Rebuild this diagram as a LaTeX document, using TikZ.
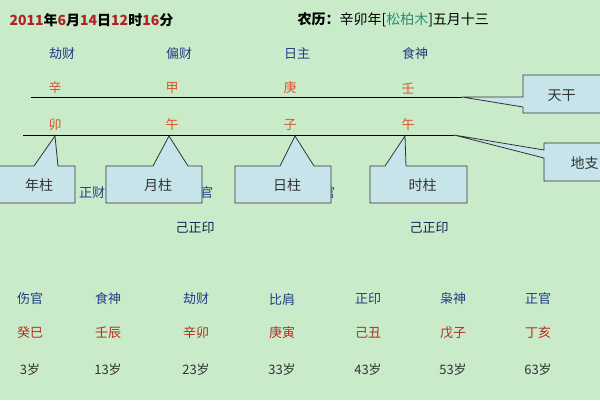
\documentclass[tikz,border=0pt]{standalone}
\usepackage{fontspec}
\setmainfont{Noto Sans CJK SC}
\definecolor{bg}{HTML}{C9EBC9}
\definecolor{ink}{HTML}{1F3C88}
\definecolor{zhu}{HTML}{D9562E}
\definecolor{nian}{HTML}{B22222}
\definecolor{callfill}{HTML}{C6E4EA}
\definecolor{jade}{HTML}{2E8B7A}
\begin{document}
\begin{tikzpicture}[x=1pt,y=-1pt,
  shen/.style={text=ink,font=\fontsize{13}{13}\selectfont},
  gz/.style={text=zhu,font=\fontsize{13}{13}\selectfont},
  plain/.style={text=black!80,font=\fontsize{13}{13}\selectfont},
  callout/.style={draw=black!80,fill=callfill,line width=0.8pt}]
\useasboundingbox[fill=bg] (0,0) rectangle (600,400);
% title line
\node[anchor=west,font=\bfseries\fontsize{14}{14}\selectfont] (date) at (6,20)
  {\textcolor{nian}{2011}年\textcolor{nian}{6}月\textcolor{nian}{14}日\textcolor{nian}{12}时\textcolor{nian}{16}分};
\node[anchor=west,font=\fontsize{14}{14}\selectfont] (lunar) at (294,20)
  {\textbf{农历：}辛卯年[\textcolor{jade}{松柏木}]五月十三};
% ten gods, stems, branches
\foreach \s/\g/\b/\x [count=\i] in {劫财/辛/卯/55, 偏财/甲/午/172, 日主/庚/子/290, 食神/壬/午/408}{
  \node[shen] (shen\i) at (\x+7,54) {\s};
  \node[gz] (gan\i) at (\x,88) {\g};
  \node[gz] (zhi\i) at (\x,125) {\b};
}
\coordinate (ganL) at (31,97);  \coordinate (ganR) at (462,97);
\coordinate (zhiL) at (23,135); \coordinate (zhiR) at (454,135);
\draw[line width=0.8pt] (ganL) -- (ganR);
\draw[line width=0.8pt] (zhiL) -- (zhiR);
% hidden text behind the boxes
\node[shen] (cai) at (92,193) {正财};
\node[shen] (guan1) at (200,193) {正官};
\node[shen] (guan2) at (322,193) {正官};
\node[plain,text=ink!60!black] (yin1) at (195,228) {己正印};
\node[plain,text=ink!60!black] (yin2) at (429,228) {己正印};
% pillar callouts
\foreach \l/\r/\t/\a/\b/\name in {-5/75/55/34/58/年柱, 106/202/169/153/188/月柱, 235/331/295/280/314/日柱, 370/467/405/385/406/时柱}{
  \draw[callout] (\l,166) -- (\a,166) -- (\t,136) -- (\b,166) -- (\r,166)
    -- (\r,203) -- (\l,203) -- cycle;
  \node[plain,font=\fontsize{14}{14}\selectfont] at ({(\l+\r)/2+4},185) {\name};
}
% stem / branch callouts
\draw[callout] (523,75) -- (605,75) -- (605,113) -- (523,113) -- (523,107)
  -- (ganR) -- (523,97) -- cycle;
\node[plain,font=\fontsize{14}{14}\selectfont,anchor=west] (tiangan) at (544,96) {天干};
\draw[callout] (544,143) -- (605,143) -- (605,181) -- (544,181) -- (544,158)
  -- (zhiR) -- (544,150) -- cycle;
\node[plain,font=\fontsize{14}{14}\selectfont,anchor=west] (dizhi) at (567,163) {地支};
% luck pillars
\foreach \s/\g/\age/\x [count=\i] in {伤官/癸巳/3/30, 食神/壬辰/13/108, 劫财/辛卯/23/196, 比肩/庚寅/33/282, 正印/己丑/43/368, 枭神/戊子/53/453, 正官/丁亥/63/538}{
  \node[shen] (yun\i) at (\x,299) {\s};
  \node[gz,text=nian!90!orange] (yungz\i) at (\x,333) {\g};
  \node[plain] (sui\i) at (\x,370) {\age 岁};
}
\end{tikzpicture}
\end{document}
